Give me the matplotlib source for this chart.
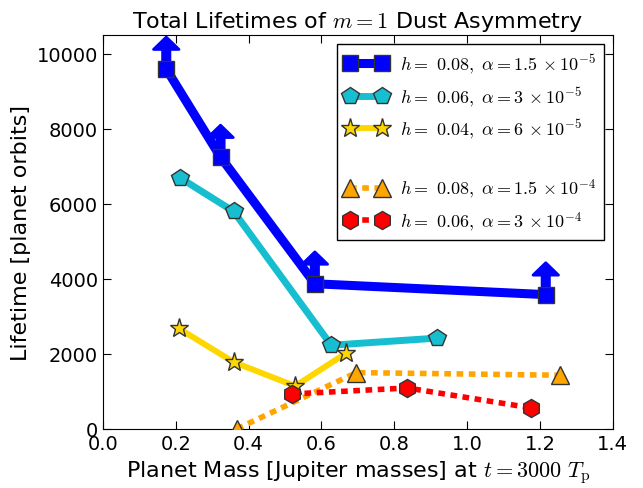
import matplotlib
matplotlib.use("Agg")
import matplotlib.pyplot as plt
from matplotlib.lines import Line2D

plt.rcParams["mathtext.fontset"] = "cm"
plt.rcParams["font.family"] = ["DejaVu Sans"]

# data
blue_x = [0.174, 0.323, 0.582, 1.216]
blue_y = [9600, 7250, 3870, 3580]
cyan_x = [0.211, 0.359, 0.627, 0.918]
cyan_y = [6700, 5800, 2230, 2420]
gold_x = [0.208, 0.359, 0.528, 0.668]
gold_y = [2680, 1780, 1140, 2020]
orange_x = [0.368, 0.696, 1.255]
orange_y = [0, 1500, 1430]
red_x = [0.520, 0.836, 1.175]
red_y = [930, 1090, 560]

labels = [
    r"$h=\ 0.08,\ \alpha=1.5\,\times10^{-5}$",
    r"$h=\ 0.06,\ \alpha=3\,\times10^{-5}$",
    r"$h=\ 0.04,\ \alpha=6\,\times10^{-5}$",
    r"$h=\ 0.08,\ \alpha=1.5\,\times10^{-4}$",
    r"$h=\ 0.06,\ \alpha=3\,\times10^{-4}$",
]

fig = plt.figure(figsize=(6.43, 4.89), dpi=100)
ax = fig.add_axes([0.160, 0.121, 0.793, 0.805])

# lower-limit arrows on the blue points
for x, y in zip(blue_x, blue_y):
    ax.arrow(x, y, 0, 850, width=0.02, head_width=0.07, head_length=330,
             length_includes_head=True, color="#0000ff", lw=2,
             joinstyle="round", zorder=2)

l1, = ax.plot(blue_x, blue_y, "-s", color="#0000ff", lw=6.5, ms=12,
              mec="#333333", mew=1, zorder=3)
l2, = ax.plot(cyan_x, cyan_y, "-p", color="#17becf", lw=5, ms=13,
              mec="#333333", mew=1, zorder=3)
l3, = ax.plot(gold_x, gold_y, "-*", color="#ffd700", lw=4.3, ms=14,
              mec="#333333", mew=1, zorder=3)
l4, = ax.plot(orange_x, orange_y, "^", ls=(0, (1.2, 1.0)), color="#ffa500",
              lw=4, ms=13, mec="#333333", mew=1, zorder=3)
l5, = ax.plot(red_x, red_y, "h", ls=(0, (1.2, 1.0)), color="#ff0000",
              lw=4, ms=13, mec="#333333", mew=1, zorder=3)
blank = Line2D([], [], ls="none", marker="none")

leg = ax.legend([l1, l2, l3, blank, l4, l5],
                [labels[0], labels[1], labels[2], "", labels[3], labels[4]],
                loc="upper right", numpoints=2, fontsize=13, fancybox=False,
                edgecolor="black", framealpha=1, handlelength=2.4,
                borderaxespad=0.5, labelspacing=0.5, handletextpad=0.7)
leg.get_frame().set_linewidth(1)

ax.set_xlim(0, 1.4)
ax.set_ylim(0, 10500)
ax.set_xticks([0.0, 0.2, 0.4, 0.6, 0.8, 1.0, 1.2, 1.4])
ax.set_yticks([0, 2000, 4000, 6000, 8000, 10000])
ax.tick_params(direction="in", top=True, right=True, labelsize=14, length=6)
ax.set_title(r"Total Lifetimes of $m=1$ Dust Asymmetry", fontsize=16)
ax.set_xlabel(r"Planet Mass [Jupiter masses] at $t=3000\ T_{\rm p}$", fontsize=16)
ax.set_ylabel("Lifetime [planet orbits]", fontsize=16)

fig.savefig("out.png", dpi=100)
